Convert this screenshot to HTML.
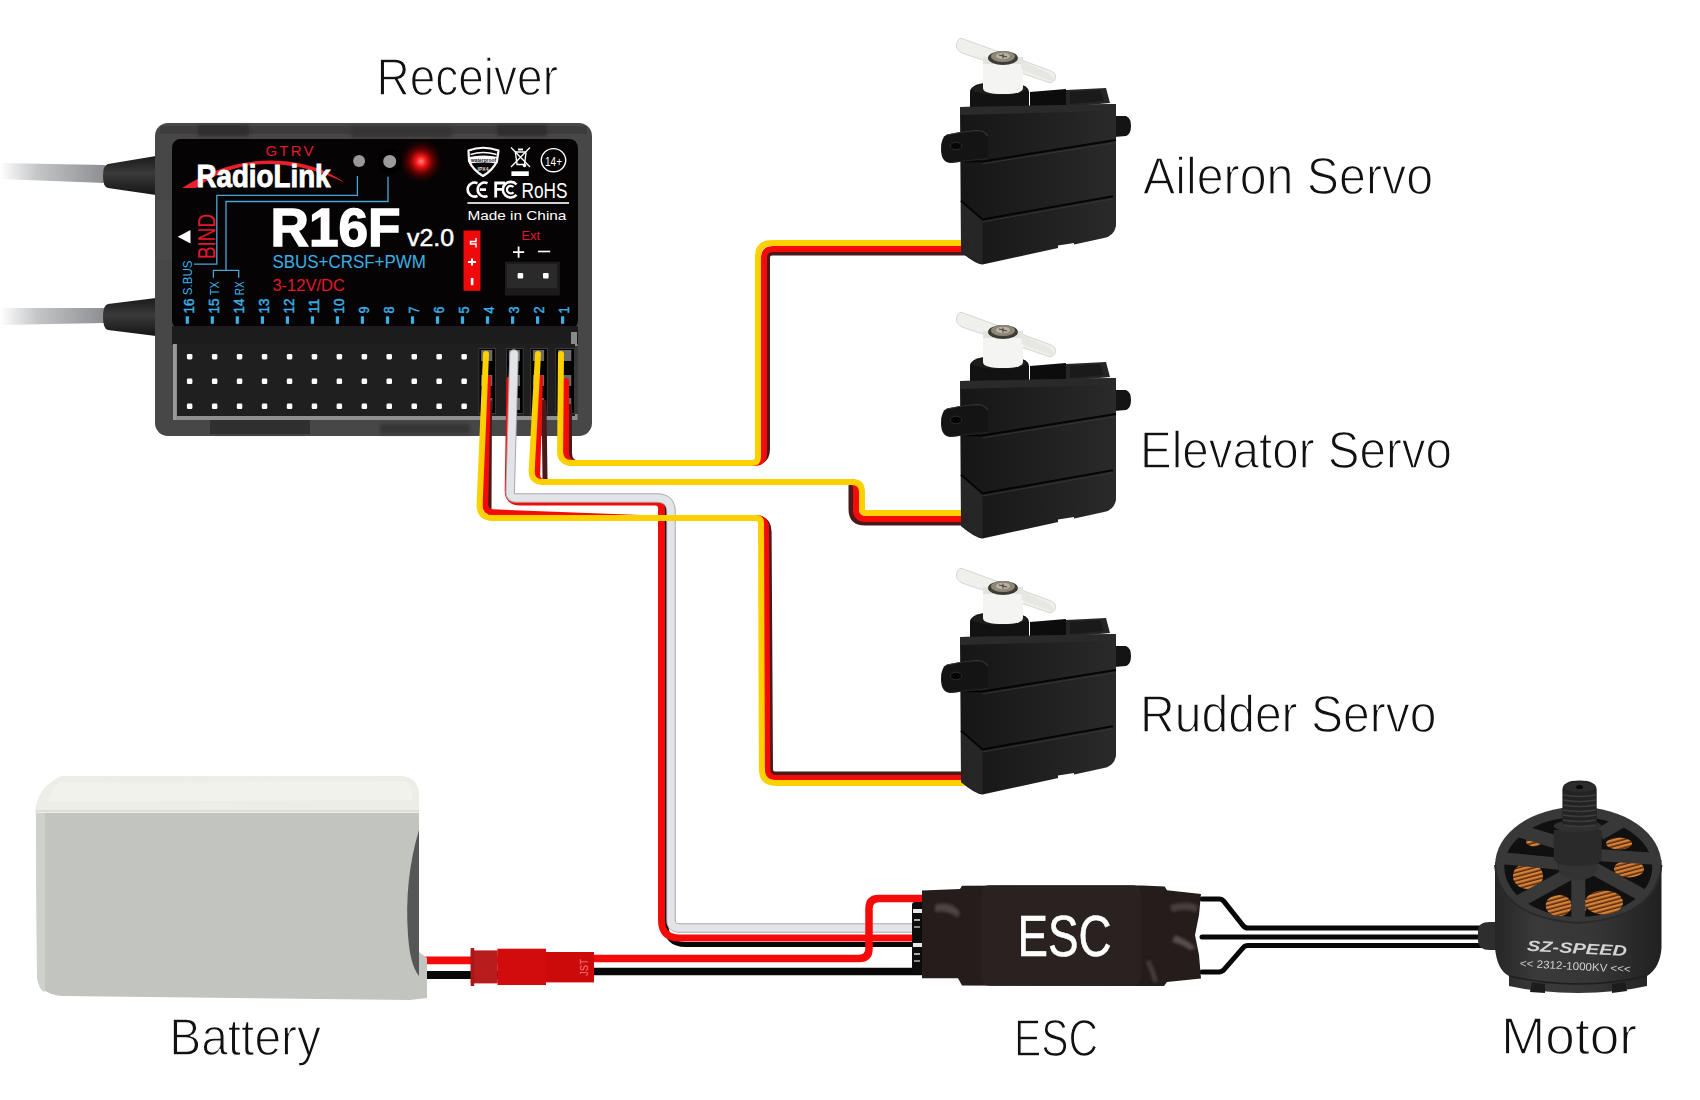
<!DOCTYPE html>
<html><head><meta charset="utf-8">
<style>
html,body{margin:0;padding:0;background:#fff;width:1700px;height:1100px;overflow:hidden}
svg{display:block;font-family:"Liberation Sans",sans-serif}
</style></head>
<body>
<svg width="1700" height="1100" viewBox="0 0 1700 1100">
<defs>
  <filter id="soft" x="-20%" y="-50%" width="140%" height="200%"><feGaussianBlur stdDeviation="1.5"/></filter>
  <linearGradient id="antg" x1="0" x2="1" y1="0" y2="0">
    <stop offset="0" stop-color="#ffffff"/>
    <stop offset="0.35" stop-color="#c4c6c8"/>
    <stop offset="1" stop-color="#8c8e91"/>
  </linearGradient>
  <linearGradient id="coneg" x1="0" x2="0" y1="0" y2="1">
    <stop offset="0" stop-color="#1a1a1a"/>
    <stop offset="0.45" stop-color="#3a3a3a"/>
    <stop offset="1" stop-color="#151515"/>
  </linearGradient>
  <radialGradient id="ledg">
    <stop offset="0" stop-color="#ff8a8a"/>
    <stop offset="0.22" stop-color="#ff1a1a"/>
    <stop offset="0.55" stop-color="#b00000" stop-opacity="0.55"/>
    <stop offset="1" stop-color="#300000" stop-opacity="0"/>
  </radialGradient>
  <linearGradient id="motg" x1="0" x2="1" y1="0" y2="0">
    <stop offset="0" stop-color="#242424"/>
    <stop offset="0.3" stop-color="#3a3a3a"/>
    <stop offset="0.7" stop-color="#333"/>
    <stop offset="1" stop-color="#1c1c1c"/>
  </linearGradient>
  <linearGradient id="servog" x1="0" x2="1" y1="0" y2="0">
    <stop offset="0" stop-color="#161616"/>
    <stop offset="0.5" stop-color="#1f1f1f"/>
    <stop offset="1" stop-color="#2a2a2a"/>
  </linearGradient>
  <g id="servo">
    <!-- horn arm -->
    <path d="M962 38.5 L1050 70.5 Q1056 73 1055.5 77 Q1055 83 1049 82.5 L962 53 Q956 50 956.5 45 Q957.5 37.5 962 38.5 Z" fill="#efefeb" stroke="#d6d6d2" stroke-width="1"/>
    <!-- output cylinder -->
    <path d="M970 92 Q970 82 999 82 Q1029 82 1029 92 L1029 121 L970 121 Z" fill="#121212"/>
    <ellipse cx="999.5" cy="89" rx="27" ry="6" fill="#1e1e1e"/>
    <!-- hub -->
    <path d="M983 57 L1023 57 L1023 88 Q1023 94 1003 94 Q983 94 983 88 Z" fill="#f4f4f2"/>
    <path d="M983 57 L1023 57 L1023 64 L983 64 Z" fill="#e2e2de"/>
    <!-- horn arm front part -->
    <path d="M1020 60 L1046 72 Q1054 76 1054 82 L1022 70 Z" fill="#e6e6e2"/>
    <ellipse cx="1003" cy="58" rx="15" ry="7" fill="#3e3b35"/>
    <ellipse cx="1003" cy="56.5" rx="12" ry="5.5" fill="#8d877a"/>
    <ellipse cx="1003" cy="56" rx="7" ry="3.2" fill="#b9b2a2"/>
    <path d="M999 55 L1007 57 M1003 53.5 L1003 58.5" stroke="#4a463e" stroke-width="1.2"/>
    <!-- rear block -->
    <path d="M1030 92 L1066 89 L1066 119 L1030 119 Z" fill="#0c0c0c"/>
    <path d="M1066 90 L1106 88 L1110 103 L1066 107 Z" fill="#262626"/>
    <path d="M1070 92 L1100 90 L1104 101 L1070 104 Z" fill="#1a1a1a"/>
    <!-- tabs -->

    <path d="M1114 116 L1126 116 Q1131 118 1131 126 Q1131 134 1126 136 L1114 137 Z" fill="#141414"/>
    <!-- main body -->
    <path d="M960 107 L1116 104 L1116 226 Q1114 236 1104 238 L982.5 264.5 Q975 264 961 252 Z" fill="url(#servog)"/>
    <path d="M960 107 L1116 104 L1116 111 L960 115 Z" fill="#2a2a2a"/>
    <path d="M961 200.8 L982.5 219.4 L982.5 264.2 Q975 262 961 252 Z" fill="#262626"/>
    <path d="M961 161 L982.5 161.4 L1116 140" stroke="#050505" stroke-width="2" fill="none"/>
    <path d="M982.5 163.8 L1116 142.6" stroke="#343434" stroke-width="1" fill="none"/>
    <path d="M961 200.8 L982.5 219.4 L1113 196.2" stroke="#050505" stroke-width="2" fill="none"/>
    <path d="M982.5 221.9 L1113 198.8" stroke="#343434" stroke-width="1" fill="none"/>
    <path d="M1058 245.5 L1074 243 L1074 247 L1058 249.5 Z" fill="#fff"/>
    <path d="M947 134.5 Q962 131 976 130 Q986 130 988 137 L988 158.5 Q970 161 950 163 Q941 162 941 149 Q941 137 947 134.5 Z" fill="#141414"/>
    <path d="M947 135 Q962 131.5 976 130.5 Q985 130.5 987.5 136" fill="none" stroke="#383838" stroke-width="1.2"/>
    <ellipse cx="956" cy="146" rx="5.5" ry="3.8" fill="#050505" stroke="#2c2c2c" stroke-width="1"/>
    <path d="M950 162.5 L988 158.5" stroke="#262626" stroke-width="1"/>
    <rect x="962" y="239" width="7" height="10" fill="#2a2222"/>
  </g>
</defs>

<!-- ===== antennas ===== -->
<path d="M0 163 L105 165 L105 183 L0 179 Z" fill="url(#antg)"/>
<path d="M0 308 L105 308 L105 323 L0 325 Z" fill="url(#antg)"/>
<path d="M108 164 L156 156 L156 195 L108 188 Q103 187 103 176 Q103 165 108 164 Z" fill="url(#coneg)"/>
<path d="M108 304 L156 298 L156 336 L108 330 Q103 329 103 317 Q103 305 108 304 Z" fill="url(#coneg)"/>

<!-- ===== receiver ===== -->
<rect x="155" y="123" width="437" height="313" rx="13" fill="#474747"/>
<rect x="160" y="126" width="427" height="8" fill="#3c3c3c"/>
<g filter="url(#soft)" fill="#2f2f2f"><rect x="198" y="125" width="51" height="11"/><rect x="351" y="126" width="101" height="11" fill="#363636"/><rect x="497" y="125" width="50" height="11"/><rect x="215" y="422" width="90" height="12"/><rect x="380" y="424" width="90" height="10" fill="#363636"/></g>
<rect x="157" y="200" width="14" height="60" fill="#4a4a4a"/>
<rect x="157" y="390" width="14" height="40" fill="#474747"/>
<rect x="210" y="420" width="100" height="14" fill="#2f2f2f"/>
<rect x="578" y="150" width="12" height="150" fill="#474747"/>
<rect x="172" y="139" width="406" height="190" rx="8.5" fill="#050303"/>
<rect x="172" y="326" width="406" height="19" fill="#1c1c1c"/>
<rect x="571" y="332" width="6" height="13" fill="#8a8a8a"/>
<rect x="173" y="344" width="404.5" height="76" fill="#8f8f8f"/><rect x="575" y="346" width="3" height="68" fill="#383838"/>
<rect x="177" y="344" width="398" height="72" fill="#1f1f1f"/>
<rect x="173" y="344" width="3" height="76" fill="#9a9a9a"/>
<rect x="186.9" y="353.9" width="5.5" height="5.5" rx="1.3" fill="#fff"/>
<rect x="186.9" y="378.6" width="5.5" height="5.5" rx="1.3" fill="#fff"/>
<rect x="186.9" y="403.6" width="5.5" height="5.5" rx="1.3" fill="#fff"/>
<rect x="211.9" y="353.9" width="5.5" height="5.5" rx="1.3" fill="#fff"/>
<rect x="211.9" y="378.6" width="5.5" height="5.5" rx="1.3" fill="#fff"/>
<rect x="211.9" y="403.6" width="5.5" height="5.5" rx="1.3" fill="#fff"/>
<rect x="236.8" y="353.9" width="5.5" height="5.5" rx="1.3" fill="#fff"/>
<rect x="236.8" y="378.6" width="5.5" height="5.5" rx="1.3" fill="#fff"/>
<rect x="236.8" y="403.6" width="5.5" height="5.5" rx="1.3" fill="#fff"/>
<rect x="261.8" y="353.9" width="5.5" height="5.5" rx="1.3" fill="#fff"/>
<rect x="261.8" y="378.6" width="5.5" height="5.5" rx="1.3" fill="#fff"/>
<rect x="261.8" y="403.6" width="5.5" height="5.5" rx="1.3" fill="#fff"/>
<rect x="286.8" y="353.9" width="5.5" height="5.5" rx="1.3" fill="#fff"/>
<rect x="286.8" y="378.6" width="5.5" height="5.5" rx="1.3" fill="#fff"/>
<rect x="286.8" y="403.6" width="5.5" height="5.5" rx="1.3" fill="#fff"/>
<rect x="311.7" y="353.9" width="5.5" height="5.5" rx="1.3" fill="#fff"/>
<rect x="311.7" y="378.6" width="5.5" height="5.5" rx="1.3" fill="#fff"/>
<rect x="311.7" y="403.6" width="5.5" height="5.5" rx="1.3" fill="#fff"/>
<rect x="336.6" y="353.9" width="5.5" height="5.5" rx="1.3" fill="#fff"/>
<rect x="336.6" y="378.6" width="5.5" height="5.5" rx="1.3" fill="#fff"/>
<rect x="336.6" y="403.6" width="5.5" height="5.5" rx="1.3" fill="#fff"/>
<rect x="361.6" y="353.9" width="5.5" height="5.5" rx="1.3" fill="#fff"/>
<rect x="361.6" y="378.6" width="5.5" height="5.5" rx="1.3" fill="#fff"/>
<rect x="361.6" y="403.6" width="5.5" height="5.5" rx="1.3" fill="#fff"/>
<rect x="386.5" y="353.9" width="5.5" height="5.5" rx="1.3" fill="#fff"/>
<rect x="386.5" y="378.6" width="5.5" height="5.5" rx="1.3" fill="#fff"/>
<rect x="386.5" y="403.6" width="5.5" height="5.5" rx="1.3" fill="#fff"/>
<rect x="411.5" y="353.9" width="5.5" height="5.5" rx="1.3" fill="#fff"/>
<rect x="411.5" y="378.6" width="5.5" height="5.5" rx="1.3" fill="#fff"/>
<rect x="411.5" y="403.6" width="5.5" height="5.5" rx="1.3" fill="#fff"/>
<rect x="436.4" y="353.9" width="5.5" height="5.5" rx="1.3" fill="#fff"/>
<rect x="436.4" y="378.6" width="5.5" height="5.5" rx="1.3" fill="#fff"/>
<rect x="436.4" y="403.6" width="5.5" height="5.5" rx="1.3" fill="#fff"/>
<rect x="461.4" y="353.9" width="5.5" height="5.5" rx="1.3" fill="#fff"/>
<rect x="461.4" y="378.6" width="5.5" height="5.5" rx="1.3" fill="#fff"/>
<rect x="461.4" y="403.6" width="5.5" height="5.5" rx="1.3" fill="#fff"/>
<rect x="478.9" y="348.5" width="16.7" height="65" fill="#000"/>
<rect x="478.9" y="348.5" width="16.7" height="65" fill="none" stroke="#3a3a3a" stroke-width="1"/>
<rect x="481.1" y="350.0" width="11.2" height="11.0" fill="#6a6a6a"/>
<rect x="481.1" y="375.0" width="11.2" height="11.0" fill="#6a6a6a"/>
<rect x="481.1" y="398.0" width="11.2" height="12.0" fill="#6a6a6a"/>
<rect x="506.6" y="348.5" width="16.7" height="65" fill="#000"/>
<rect x="506.6" y="348.5" width="16.7" height="65" fill="none" stroke="#3a3a3a" stroke-width="1"/>
<rect x="508.8" y="350.0" width="11.2" height="11.0" fill="#6a6a6a"/>
<rect x="508.8" y="375.0" width="11.2" height="11.0" fill="#6a6a6a"/>
<rect x="508.8" y="398.0" width="11.2" height="12.0" fill="#6a6a6a"/>
<rect x="530.7" y="348.5" width="16.7" height="65" fill="#000"/>
<rect x="530.7" y="348.5" width="16.7" height="65" fill="none" stroke="#3a3a3a" stroke-width="1"/>
<rect x="532.9" y="350.0" width="11.2" height="11.0" fill="#6a6a6a"/>
<rect x="532.9" y="375.0" width="11.2" height="11.0" fill="#6a6a6a"/>
<rect x="532.9" y="398.0" width="11.2" height="12.0" fill="#6a6a6a"/>
<rect x="555.8" y="348.5" width="18.8" height="65" fill="#000"/>
<rect x="555.8" y="348.5" width="18.8" height="65" fill="none" stroke="#3a3a3a" stroke-width="1"/>
<rect x="558.0" y="350.0" width="13.3" height="11.0" fill="#6a6a6a"/>
<rect x="558.0" y="375.0" width="13.3" height="11.0" fill="#6a6a6a"/>
<rect x="558.0" y="398.0" width="13.3" height="12.0" fill="#6a6a6a"/>
<text x="265.5" y="155.7" font-size="15" fill="#e3182a" textLength="48" lengthAdjust="spacing">GTRV</text>
<path d="M182 188 Q225 160 272 160.5 Q315 161 345 183 Q312 166 272 164 Q230 163 196 188 Z" fill="#e8202a"/>
<text x="196.5" y="187.4" font-size="31" font-weight="bold" fill="#fff" stroke="#fff" stroke-width="0.9" textLength="134" lengthAdjust="spacingAndGlyphs">RadioLink</text>
<circle cx="389.7" cy="161.4" r="12" fill="#000"/>
<circle cx="359.1" cy="161" r="6" fill="#9a9898"/>
<circle cx="389.7" cy="161.4" r="6.5" fill="#9c9a9a"/>
<circle cx="421" cy="161.4" r="22" fill="url(#ledg)"/>
<path d="M357.4 176 V195.4 H216.8 V264.2 H194" fill="none" stroke="#4aa6d6" stroke-width="1.3"/>
<path d="M388 176.7 V201.5 H226 V270.3" fill="none" stroke="#4aa6d6" stroke-width="1.3"/>
<path d="M213.4 277.8 V270.3 H238.7 V277.8" fill="none" stroke="#4aa6d6" stroke-width="1.3"/>
<path d="M177.7 236.8 L190.5 230 L190.5 243.6 Z" fill="#fff"/>
<text transform="translate(215,259) rotate(-90)" font-size="23" fill="#e3182a" textLength="45" lengthAdjust="spacingAndGlyphs">BIND</text>
<text x="270.5" y="245.8" font-size="54" font-weight="bold" fill="#fff" stroke="#fff" stroke-width="1.4" textLength="130" lengthAdjust="spacingAndGlyphs">R16F</text>
<text x="407" y="246.2" font-size="24" fill="#fff" textLength="47" lengthAdjust="spacingAndGlyphs" stroke="#fff" stroke-width="0.5">v2.0</text>
<text x="272.4" y="267.5" font-size="17.5" fill="#3bb0e6" textLength="153.5" lengthAdjust="spacingAndGlyphs">SBUS+CRSF+PWM</text>
<text x="272.4" y="290.5" font-size="16.5" fill="#e3182a" textLength="72.5" lengthAdjust="spacingAndGlyphs">3-12V/DC</text>
<rect x="185.7" y="316.3" width="3.2" height="7.5" fill="#3bb0e6"/>
<text transform="translate(194.1,313.6) rotate(-90)" font-size="14.5" fill="#3bb0e6" stroke="#3bb0e6" stroke-width="0.45" textLength="15.0" lengthAdjust="spacingAndGlyphs">16</text>
<rect x="210.7" y="316.3" width="3.2" height="7.5" fill="#3bb0e6"/>
<text transform="translate(219.1,313.6) rotate(-90)" font-size="14.5" fill="#3bb0e6" stroke="#3bb0e6" stroke-width="0.45" textLength="15.0" lengthAdjust="spacingAndGlyphs">15</text>
<rect x="235.7" y="316.3" width="3.2" height="7.5" fill="#3bb0e6"/>
<text transform="translate(244.1,313.6) rotate(-90)" font-size="14.5" fill="#3bb0e6" stroke="#3bb0e6" stroke-width="0.45" textLength="15.0" lengthAdjust="spacingAndGlyphs">14</text>
<rect x="260.8" y="316.3" width="3.2" height="7.5" fill="#3bb0e6"/>
<text transform="translate(269.2,313.6) rotate(-90)" font-size="14.5" fill="#3bb0e6" stroke="#3bb0e6" stroke-width="0.45" textLength="15.0" lengthAdjust="spacingAndGlyphs">13</text>
<rect x="285.8" y="316.3" width="3.2" height="7.5" fill="#3bb0e6"/>
<text transform="translate(294.2,313.6) rotate(-90)" font-size="14.5" fill="#3bb0e6" stroke="#3bb0e6" stroke-width="0.45" textLength="15.0" lengthAdjust="spacingAndGlyphs">12</text>
<rect x="310.8" y="316.3" width="3.2" height="7.5" fill="#3bb0e6"/>
<text transform="translate(319.2,313.6) rotate(-90)" font-size="14.5" fill="#3bb0e6" stroke="#3bb0e6" stroke-width="0.45" textLength="15.0" lengthAdjust="spacingAndGlyphs">11</text>
<rect x="335.8" y="316.3" width="3.2" height="7.5" fill="#3bb0e6"/>
<text transform="translate(344.2,313.6) rotate(-90)" font-size="14.5" fill="#3bb0e6" stroke="#3bb0e6" stroke-width="0.45" textLength="15.0" lengthAdjust="spacingAndGlyphs">10</text>
<rect x="360.8" y="316.3" width="3.2" height="7.5" fill="#3bb0e6"/>
<text transform="translate(369.2,313.6) rotate(-90)" font-size="14.5" fill="#3bb0e6" stroke="#3bb0e6" stroke-width="0.45" textLength="7.0" lengthAdjust="spacingAndGlyphs">9</text>
<rect x="385.9" y="316.3" width="3.2" height="7.5" fill="#3bb0e6"/>
<text transform="translate(394.3,313.6) rotate(-90)" font-size="14.5" fill="#3bb0e6" stroke="#3bb0e6" stroke-width="0.45" textLength="7.0" lengthAdjust="spacingAndGlyphs">8</text>
<rect x="410.9" y="316.3" width="3.2" height="7.5" fill="#3bb0e6"/>
<text transform="translate(419.3,313.6) rotate(-90)" font-size="14.5" fill="#3bb0e6" stroke="#3bb0e6" stroke-width="0.45" textLength="7.0" lengthAdjust="spacingAndGlyphs">7</text>
<rect x="435.9" y="316.3" width="3.2" height="7.5" fill="#3bb0e6"/>
<text transform="translate(444.3,313.6) rotate(-90)" font-size="14.5" fill="#3bb0e6" stroke="#3bb0e6" stroke-width="0.45" textLength="7.0" lengthAdjust="spacingAndGlyphs">6</text>
<rect x="460.9" y="316.3" width="3.2" height="7.5" fill="#3bb0e6"/>
<text transform="translate(469.3,313.6) rotate(-90)" font-size="14.5" fill="#3bb0e6" stroke="#3bb0e6" stroke-width="0.45" textLength="7.0" lengthAdjust="spacingAndGlyphs">5</text>
<rect x="485.9" y="316.3" width="3.2" height="7.5" fill="#3bb0e6"/>
<text transform="translate(494.3,313.6) rotate(-90)" font-size="14.5" fill="#3bb0e6" stroke="#3bb0e6" stroke-width="0.45" textLength="7.0" lengthAdjust="spacingAndGlyphs">4</text>
<rect x="511.0" y="316.3" width="3.2" height="7.5" fill="#3bb0e6"/>
<text transform="translate(519.4,313.6) rotate(-90)" font-size="14.5" fill="#3bb0e6" stroke="#3bb0e6" stroke-width="0.45" textLength="7.0" lengthAdjust="spacingAndGlyphs">3</text>
<rect x="536.0" y="316.3" width="3.2" height="7.5" fill="#3bb0e6"/>
<text transform="translate(544.4,313.6) rotate(-90)" font-size="14.5" fill="#3bb0e6" stroke="#3bb0e6" stroke-width="0.45" textLength="7.0" lengthAdjust="spacingAndGlyphs">2</text>
<rect x="561.0" y="316.3" width="3.2" height="7.5" fill="#3bb0e6"/>
<text transform="translate(569.4,313.6) rotate(-90)" font-size="14.5" fill="#3bb0e6" stroke="#3bb0e6" stroke-width="0.45" textLength="7.0" lengthAdjust="spacingAndGlyphs">1</text>
<text transform="translate(192.3,295.2) rotate(-90)" font-size="12" fill="#3bb0e6" textLength="34.7" lengthAdjust="spacingAndGlyphs">S.BUS</text>
<text transform="translate(219.3,295.2) rotate(-90)" font-size="13" fill="#3bb0e6" textLength="14" lengthAdjust="spacingAndGlyphs">TX</text>
<text transform="translate(243.6,295.2) rotate(-90)" font-size="13" fill="#3bb0e6" textLength="14" lengthAdjust="spacingAndGlyphs">RX</text>
<path d="M468.5 150.5 Q483 145 498.5 150.5 L497 161 Q493 170 483 176 Q473 170 469 161 Z" fill="none" stroke="#fff" stroke-width="2.2" stroke-linejoin="round"/>
<path d="M470.5 154.5 Q483 150.5 496.5 154.5" fill="none" stroke="#fff" stroke-width="1.6"/>
<path d="M469 157 Q483 154 498 157 L497.5 163.5 Q483 161.5 469.5 163.5 Z" fill="#fff"/>
<text x="471" y="162.3" font-size="5.2" font-weight="bold" fill="#111" textLength="25" lengthAdjust="spacingAndGlyphs">waterproof</text>
<text x="477.5" y="170.5" font-size="5" font-weight="bold" fill="#ddd" textLength="11" lengthAdjust="spacingAndGlyphs">IPX4</text>
<path d="M511 147.5 L530 167 M530 147.5 L511 167" stroke="#fff" stroke-width="1.3"/>
<path d="M514.5 152 H526.5" stroke="#fff" stroke-width="1.5"/>
<path d="M515.5 153 L517 164.5 H524.5 L526 153" fill="none" stroke="#fff" stroke-width="1.4"/>
<circle cx="524.5" cy="165.5" r="1.8" fill="#fff"/>
<rect x="518" y="148.5" width="5" height="2" fill="#fff"/>
<rect x="511.4" y="171.3" width="17.4" height="4.7" fill="#fff"/>
<ellipse cx="553.5" cy="160.2" rx="12.2" ry="11.6" fill="none" stroke="#fff" stroke-width="1.4"/>
<text x="545" y="166" font-size="13" fill="#fff" textLength="17" lengthAdjust="spacingAndGlyphs">14+</text>
<path d="M477.5 183.2 A7 7 0 1 0 477.5 196" fill="none" stroke="#fff" stroke-width="2.6"/>
<path d="M487.5 183.2 A7 7 0 1 0 487.5 196 M479.8 189.6 H486" fill="none" stroke="#fff" stroke-width="2.6"/>
<path d="M495.7 197.6 V183 H505 M495.7 189.4 H502.5" fill="none" stroke="#fff" stroke-width="2.8"/>
<path d="M516.5 184.5 A7.8 7.8 0 1 0 516.5 194.8" fill="none" stroke="#fff" stroke-width="2.6"/>
<path d="M513.5 187 A3.8 3.8 0 1 0 513.5 192.2" fill="none" stroke="#fff" stroke-width="2.2"/>
<text x="521.5" y="197.6" font-size="21.5" fill="#fff" textLength="46" lengthAdjust="spacingAndGlyphs">RoHS</text>
<rect x="467.4" y="202" width="101.6" height="2" fill="#d0d0d0"/>
<text x="467.4" y="219.6" font-size="13.5" fill="#fff" textLength="99" lengthAdjust="spacingAndGlyphs">Made in China</text>
<rect x="463.5" y="230.5" width="17" height="60.3" fill="#ee0a0a"/>
<path d="M476 238 V241.5 H470.5 V244 H476 V247.5" fill="none" stroke="#fff" stroke-width="1.5"/>
<path d="M468 261.9 H476 M472 258.4 V265.4" stroke="#fff" stroke-width="2"/>
<rect x="470.8" y="277.9" width="2.6" height="7.3" fill="#fff"/>
<text x="521.5" y="240" font-size="13.5" fill="#e3182a" textLength="18.5" lengthAdjust="spacingAndGlyphs">Ext</text>
<path d="M513 252.1 H524.2 M518.6 246.5 V257.7" stroke="#fff" stroke-width="1.8"/>
<path d="M538 251.5 H550.2" stroke="#fff" stroke-width="1.6"/>
<rect x="505" y="261.7" width="54.8" height="33.8" fill="#1c1c1c"/>
<rect x="507" y="264" width="50" height="24" fill="#2a2a2a"/>
<rect x="517.6" y="273" width="5.6" height="5.4" rx="1" fill="#fff"/>
<rect x="543" y="273" width="5.6" height="5.4" rx="1" fill="#fff"/>

<path d="M511.0 402.0 L510.1 490.0 Q510.0 500.0 520.0 500.0 L658.0 500.0 Q666.0 500.0 666.0 508.0 L666.0 924.5 Q666.0 944.5 686.0 944.5 L912.0 944.5" fill="none" stroke="#080808" stroke-width="5" stroke-linecap="round" stroke-linejoin="round" />
<path d="M510.0 380.0 L508.2 490.0 Q508.0 502.0 520.0 502.0 L655.5 502.0 Q661.5 502.0 661.5 508.0 L661.5 920.0 Q661.5 938.0 679.5 938.0 L912.0 938.0" fill="none" stroke="#f50a0a" stroke-width="7" stroke-linecap="round" stroke-linejoin="round" />
<path d="M514.0 354.0 L510.2 492.0 Q510.0 498.0 516.0 498.0 L657.0 498.0 Q671.0 498.0 671.0 512.0 L671.0 920.0 Q671.0 928.0 679.0 928.0 L912.0 928.0" fill="none" stroke="#a8a8ac" stroke-width="9.5" stroke-linecap="round" stroke-linejoin="round" />
<path d="M514.0 354.0 L510.2 492.0 Q510.0 498.0 516.0 498.0 L657.0 498.0 Q671.0 498.0 671.0 512.0 L671.0 920.0 Q671.0 928.0 679.0 928.0 L912.0 928.0" fill="none" stroke="#e3e4e8" stroke-width="7.5" stroke-linecap="round" stroke-linejoin="round" />
<path d="M570.0 406.0 L570.0 453.0 Q570.0 463.0 580.0 463.0 L754.0 463.0 Q768.0 463.0 768.0 449.0 L768.0 257.5 Q768.0 253.5 772.0 253.5 L966.0 253.5" fill="none" stroke="#4a1a1a" stroke-width="4" stroke-linecap="round" stroke-linejoin="round" />
<path d="M566.0 381.0 L566.0 453.0 Q566.0 463.0 576.0 463.0 L754.0 463.0 Q764.0 463.0 764.0 453.0 L764.0 258.0 Q764.0 249.0 773.0 249.0 L966.0 249.0" fill="none" stroke="#f50a0a" stroke-width="6" stroke-linecap="round" stroke-linejoin="round" />
<path d="M561.0 354.0 L560.1 451.0 Q560.0 463.0 572.0 463.0 L752.0 463.0 Q758.0 463.0 758.0 457.0 L758.0 257.0 Q758.0 243.0 772.0 243.0 L966.0 243.0" fill="none" stroke="#fdd000" stroke-width="6" stroke-linecap="round" stroke-linejoin="round" />
<path d="M544.0 402.0 L545.0 478.0 Q545.0 482.0 549.0 482.0 L848.0 482.0 Q851.0 482.0 851.0 485.0 L851.0 509.0 Q851.0 523.0 865.0 523.0 L964.0 523.0" fill="none" stroke="#4a1a1a" stroke-width="5" stroke-linecap="round" stroke-linejoin="round" />
<path d="M540.0 378.0 L537.2 474.0 Q537.0 482.0 545.0 482.0 L851.0 482.0 Q856.0 482.0 856.0 487.0 L856.0 509.0 Q856.0 519.0 866.0 519.0 L964.0 519.0" fill="none" stroke="#f50a0a" stroke-width="6" stroke-linecap="round" stroke-linejoin="round" />
<path d="M538.0 354.0 L531.7 470.0 Q531.0 482.0 543.0 482.0 L852.0 482.0 Q862.0 482.0 862.0 492.0 L862.0 509.0 Q862.0 513.0 866.0 513.0 L964.0 513.0" fill="none" stroke="#fdd000" stroke-width="6" stroke-linecap="round" stroke-linejoin="round" />
<path d="M490.0 402.0 L489.5 512.0 Q489.5 518.0 495.5 518.0 L755.5 518.0 Q769.5 518.0 769.6 532.0 L771.0 769.5 Q771.0 773.5 775.0 773.5 L968.0 773.5" fill="none" stroke="#4a1a1a" stroke-width="4" stroke-linecap="round" stroke-linejoin="round" />
<path d="M488.0 378.0 L485.2 504.0 Q485.0 512.0 493.0 512.3 L640.0 518.0 Q640.0 518.0 640.0 518.0 L756.0 518.0 Q766.0 518.0 766.1 528.0 L767.4 769.0 Q767.5 778.0 776.5 778.0 L968.0 778.0" fill="none" stroke="#f50a0a" stroke-width="6" stroke-linecap="round" stroke-linejoin="round" />
<path d="M486.0 354.0 L479.6 504.0 Q479.0 518.0 493.0 518.0 L756.0 518.0 Q761.0 518.0 761.0 523.0 L761.9 769.0 Q762.0 783.0 776.0 783.0 L968.0 783.0" fill="none" stroke="#fdd000" stroke-width="6" stroke-linecap="round" stroke-linejoin="round" />

<!-- ===== servos ===== -->
<use href="#servo"/>
<use href="#servo" transform="translate(0,274)"/>
<use href="#servo" transform="translate(0,530)"/>

<!-- ===== battery ===== -->
<path d="M426.0 975.0 L500.0 975.0" fill="none" stroke="#080808" stroke-width="8" stroke-linecap="round" stroke-linejoin="round" stroke-linecap="butt"/>
<path d="M560.0 971.6 L921.0 971.6" fill="none" stroke="#080808" stroke-width="7.5" stroke-linecap="round" stroke-linejoin="round" stroke-linecap="butt"/>
<path d="M426.0 960.4 L500.0 960.4" fill="none" stroke="#f50a0a" stroke-width="7.8" stroke-linecap="round" stroke-linejoin="round" stroke-linecap="butt"/>
<path d="M560.0 958.6 L859.0 958.6 Q869.0 958.6 869.0 948.6 L869.0 908.5 Q869.0 898.5 879.0 898.5 L921.0 898.5" fill="none" stroke="#f50a0a" stroke-width="7.5" stroke-linecap="round" stroke-linejoin="round" />
<path d="M35 813 Q37 786 62 776 L402 776 Q418 778 419 794 L419 813 Z" fill="#ecede6"/>
<path d="M60 782 L405 781 Q413 784 412 800 L48 802 Q50 788 60 782 Z" fill="#f1f2ec"/>
<path d="M36 811 L419 811" stroke="#dcddd6" stroke-width="2"/>
<path d="M36 813 L419 813 L419 952 L427 958 L427 998 L410 1000 L62 996 Q38 994 37 975 Z" fill="#c2c4c0"/>
<path d="M36 813 L45 813 L45 992 Q38 990 37 975 Z" fill="#cfd1cd"/>
<path d="M419 830 Q404 880 408 935 Q410 965 419 976 Z" fill="#565656"/>
<rect x="470.7" y="950.4" width="27" height="33" fill="#b81c1c"/>
<rect x="470.7" y="948" width="3.5" height="38" fill="#a81818"/>
<rect x="497.5" y="948.7" width="48.5" height="36.3" fill="#d20c0c"/>
<rect x="546" y="952" width="48" height="30.4" fill="#cc0a0a"/>
<text transform="translate(587.5,976) rotate(-90)" font-size="10" fill="#f27c7c" textLength="17" lengthAdjust="spacingAndGlyphs">JST</text>

<!-- ===== ESC ===== -->
<path d="M1202.0 899.0 L1219.0 899.0 Q1222.0 899.0 1223.9 901.4 L1243.1 925.6 Q1245.0 928.0 1248.0 928.0 L1482.0 928.0" fill="none" stroke="#080808" stroke-width="5" stroke-linecap="round" stroke-linejoin="round" />
<path d="M1202.0 937.0 L1482.0 937.0" fill="none" stroke="#080808" stroke-width="5" stroke-linecap="round" stroke-linejoin="round" />
<path d="M1202.0 972.0 L1219.0 972.0 Q1222.0 972.0 1224.0 969.7 L1243.0 947.9 Q1245.0 945.6 1248.0 945.6 L1482.0 945.6" fill="none" stroke="#080808" stroke-width="5" stroke-linecap="round" stroke-linejoin="round" />
<rect x="912" y="902" width="12" height="72" rx="3" fill="#0c0c0c"/>
<g fill="#e8e8e8" font-size="6" font-weight="bold">
<rect x="913" y="909" width="9" height="4"/><rect x="914" y="919" width="6" height="2" fill="#aaa"/><rect x="914" y="926" width="6" height="2" fill="#888"/>
<rect x="913" y="943" width="9" height="4"/><rect x="914" y="953" width="6" height="2" fill="#aaa"/><rect x="914" y="960" width="6" height="2" fill="#888"/>
</g>
<path d="M922 890.4 L960 889 L962 885.7 L1142 885.4 L1164.7 886.5 L1167 890.3 L1201 894 L1199 915 L1195 935 L1199 955 L1201 978.6 L1167 981.9 L1164 986 L1142 986 L962 985.5 L958 978.2 L922 978.2 Z" fill="#251c1c"/>
<g filter="url(#soft)">
<path d="M935 905 Q950 900 960 912 L958 918 Q948 910 935 912 Z" fill="#5a4e4e" opacity="0.8"/>
<path d="M1170 905 Q1190 900 1198 906 L1196 912 Q1185 908 1172 912 Z" fill="#4a3e3e"/>
<path d="M1175 935 Q1188 940 1196 948 L1190 950 Q1182 944 1172 942 Z" fill="#5a4e4e"/>
<path d="M1150 960 Q1155 970 1158 982 L1153 982 Q1150 970 1146 962 Z" fill="#4a3e3e"/>
</g>
<rect x="981" y="885.2" width="160" height="100.5" rx="8" fill="#2a2121"/>
<text x="1017.6" y="955.7" font-size="56.6" fill="#fff" stroke="#fff" stroke-width="0.6" textLength="94" lengthAdjust="spacingAndGlyphs">ESC</text>

<!-- ===== motor ===== -->
<defs>
<pattern id="copper" width="4" height="4" patternUnits="userSpaceOnUse" patternTransform="rotate(-15)">
  <rect width="4" height="4" fill="#d4823a"/>
  <rect y="2.4" width="4" height="1.6" fill="#5a2a0a"/>
</pattern>
<linearGradient id="motside" x1="0" x2="1" y1="0" y2="0">
  <stop offset="0" stop-color="#262626"/>
  <stop offset="0.25" stop-color="#3a3a3a"/>
  <stop offset="0.6" stop-color="#363636"/>
  <stop offset="1" stop-color="#202020"/>
</linearGradient>
</defs>
<path d="M1478 931 Q1478 922 1490 922 L1502 922 L1502 950 L1490 950 Q1478 950 1478 940 Z" fill="#2e2e2e"/>
<path d="M1495 862 L1495 948 Q1497 970 1509 976 L1509 986 Q1540 993 1578 993 Q1616 993 1647 986 L1647 976 Q1660 968 1661.5 948 L1661.5 860 Z" fill="url(#motside)"/>
<path d="M1530 992 L1532 982 L1545 984 L1545 993 Z" fill="#1c1c1c"/>
<path d="M1612 993 L1612 984 L1625 982 L1627 991 Z" fill="#1c1c1c"/>
<path d="M1509 976 Q1578 992 1647 976" fill="none" stroke="#1e1e1e" stroke-width="1.5"/>
<ellipse cx="1578.3" cy="865" rx="83.2" ry="58" fill="#383838"/>
<path d="M1495 865 Q1500 918 1578 923 Q1656 918 1661.5 865" fill="none" stroke="#2a2a2a" stroke-width="2"/>
<ellipse cx="1578.3" cy="867" rx="74" ry="50" fill="#101010"/>
<ellipse cx="1534" cy="841.5" rx="8" ry="5" fill="url(#copper)"/>
<ellipse cx="1619" cy="843.5" rx="13" ry="6" fill="url(#copper)"/>
<ellipse cx="1528" cy="876" rx="15" ry="13" fill="url(#copper)"/>
<ellipse cx="1629" cy="869" rx="15" ry="8.5" fill="url(#copper)"/>
<ellipse cx="1558.7" cy="905.5" rx="13" ry="10.5" fill="url(#copper)"/>
<ellipse cx="1604" cy="902.4" rx="19" ry="12" fill="url(#copper)"/>
<ellipse cx="1581" cy="905" rx="6" ry="9" fill="url(#copper)"/>
<clipPath id="rimclip"><ellipse cx="1578.3" cy="865" rx="80" ry="56"/></clipPath>
<g clip-path="url(#rimclip)">
<path d="M1556 842 L1501.88 825.44" stroke="#383838" stroke-width="13" stroke-linecap="butt"/>
<path d="M1600 834 L1637.2 812.4" stroke="#383838" stroke-width="13" stroke-linecap="butt"/>
<path d="M1558.7 863.8 L1485.14 856.48" stroke="#383838" stroke-width="12" stroke-linecap="butt"/>
<path d="M1600.4 855.2 L1670.72 859.76" stroke="#383838" stroke-width="12" stroke-linecap="butt"/>
<path d="M1569.8 873.6 L1510.88 906.0" stroke="#383838" stroke-width="13" stroke-linecap="butt"/>
<path d="M1578.3 873.6 L1578.3 932.5200000000001" stroke="#383838" stroke-width="14" stroke-linecap="butt"/>
<path d="M1594.3 868.7 L1653.22 901.1" stroke="#383838" stroke-width="13" stroke-linecap="butt"/>
</g>
<ellipse cx="1578" cy="868" rx="20" ry="12" fill="#333"/>
<path d="M1553.8 830 L1553.8 858 Q1553.8 866 1578 866 Q1601.7 866 1601.7 858 L1601.7 830 Z" fill="#2a2a2a"/>
<ellipse cx="1577.7" cy="826" rx="24" ry="6" fill="#303030"/>
<path d="M1562.4 826 L1562.4 790 Q1562.4 780.5 1579.5 780.5 Q1596.7 780.5 1596.7 790 L1596.7 826 Z" fill="#232323"/>
<ellipse cx="1579.5" cy="787" rx="16" ry="5" fill="#2c2c2c"/>
<path d="M1563 795 Q1579.5 798 1596 795" fill="none" stroke="#3c3c3c" stroke-width="1.6"/>
<path d="M1563 800 Q1579.5 803 1596 800" fill="none" stroke="#3c3c3c" stroke-width="1.6"/>
<path d="M1563 805 Q1579.5 808 1596 805" fill="none" stroke="#3c3c3c" stroke-width="1.6"/>
<path d="M1563 810 Q1579.5 813 1596 810" fill="none" stroke="#3c3c3c" stroke-width="1.6"/>
<path d="M1563 815 Q1579.5 818 1596 815" fill="none" stroke="#3c3c3c" stroke-width="1.6"/>
<path d="M1563 820 Q1579.5 823 1596 820" fill="none" stroke="#3c3c3c" stroke-width="1.6"/>
<path d="M1563 825 Q1579.5 828 1596 825" fill="none" stroke="#3c3c3c" stroke-width="1.6"/>
<ellipse cx="1579.5" cy="787" rx="3.5" ry="2" fill="#0a0a0a"/>
<text x="1527" y="953.5" font-size="15" font-weight="bold" font-style="italic" fill="#d4d4d4" textLength="100" lengthAdjust="spacingAndGlyphs" transform="rotate(3 1578 948)">SZ-SPEED</text>
<text x="1520" y="970" font-size="11" fill="#cfcfcf" textLength="111" lengthAdjust="spacingAndGlyphs" transform="rotate(3 1578 964)">&lt;&lt; 2312-1000KV &lt;&lt;&lt;</text>

<text x="376.4" y="94.8" textLength="181.6" lengthAdjust="spacingAndGlyphs" font-size="51" fill="#111" stroke="#fff" stroke-width="1.3" paint-order="normal">Receiver</text>
<text x="1143" y="193.6" textLength="290" lengthAdjust="spacingAndGlyphs" font-size="51" fill="#111" stroke="#fff" stroke-width="1.3" paint-order="normal">Aileron Servo</text>
<text x="1140" y="467.8" textLength="312" lengthAdjust="spacingAndGlyphs" font-size="51" fill="#111" stroke="#fff" stroke-width="1.3" paint-order="normal">Elevator Servo</text>
<text x="1140" y="731.5" textLength="296.5" lengthAdjust="spacingAndGlyphs" font-size="51" fill="#111" stroke="#fff" stroke-width="1.3" paint-order="normal">Rudder Servo</text>
<text x="169.2" y="1055" textLength="151.8" lengthAdjust="spacingAndGlyphs" font-size="51" fill="#111" stroke="#fff" stroke-width="1.3" paint-order="normal">Battery</text>
<text x="1014" y="1055.5" textLength="84" lengthAdjust="spacingAndGlyphs" font-size="51" fill="#111" stroke="#fff" stroke-width="1.3" paint-order="normal">ESC</text>
<text x="1501" y="1054" textLength="136" lengthAdjust="spacingAndGlyphs" font-size="51" fill="#111" stroke="#fff" stroke-width="1.3" paint-order="normal">Motor</text>
</svg>
</body></html>
